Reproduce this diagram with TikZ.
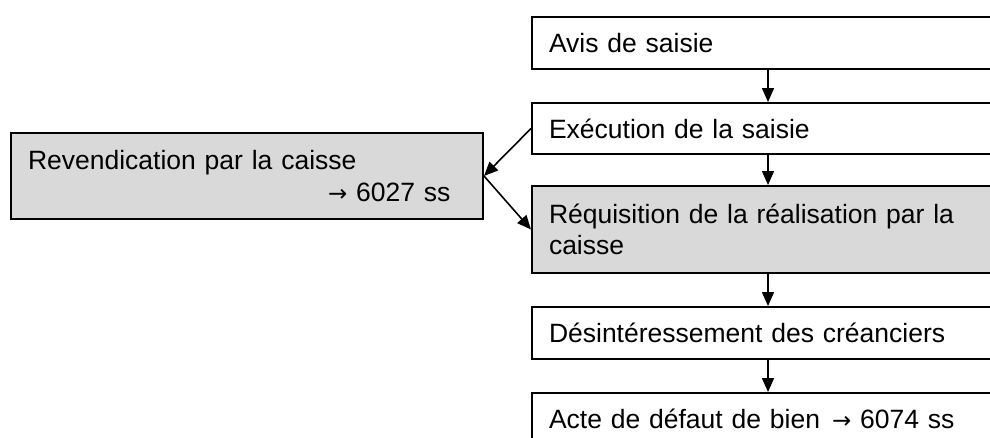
\documentclass[tikz,border=0pt]{standalone}
\usepackage{fontspec}
\setmainfont{Liberation Sans}
\newfontfamily\flechefont{DejaVu Sans}
\usetikzlibrary{arrows.meta,positioning}
\definecolor{gris}{RGB}{217,217,217}
\newcommand{\versart}{{\flechefont\fontsize{23}{28}\selectfont →}}

\tikzset{
  etape/.style={draw, line width=2pt, anchor=north west, align=left,
    inner xsep=17pt, inner ysep=0pt, text width=466pt,
    font=\fontsize{26.5}{31.5}\selectfont},
  etapegris/.style={etape, fill=gris},
  fleche/.style={-{Triangle[length=14pt,width=12pt]}, line width=1.6pt}
}

\begin{document}
\begin{tikzpicture}[x=1pt,y=-1pt]
\path[use as bounding box, clip] (0,0) rectangle (990,437);
% colonne de droite
\node[etape, minimum height=52pt] (avis) at (531,16) {Avis de saisie};
\node[etape, minimum height=51pt] (exec) at (531,102) {Exécution de la saisie};
\node[etapegris, minimum height=87pt] (requi) at (531,185) {Réquisition de la réalisation par la\\caisse};
\node[etape, minimum height=52pt] (desint) at (531,306) {Désintéressement des créanciers};
\node[etape, minimum height=52pt] (acte) at (531,392) {Acte de défaut de bien\hspace{12pt}\versart{} 6074 ss};
% a gauche
\node[etapegris, text width=438pt, minimum height=86pt] (revend) at (10,132) {Revendication par la caisse\\\hspace*{300pt}\versart{} 6027 ss};
\coordinate (axe) at (768,0);
\draw[fleche] (avis.south -| axe) -- (exec.north -| axe);
\draw[fleche] (exec.south -| axe) -- (requi.north -| axe);
\draw[fleche] (requi.south -| axe) -- (desint.north -| axe);
\draw[fleche] (desint.south -| axe) -- (acte.north -| axe);
\draw[fleche] (exec.west) -- (revend.east);
\draw[fleche] (revend.east) -- (requi.west);
\end{tikzpicture}
\end{document}
